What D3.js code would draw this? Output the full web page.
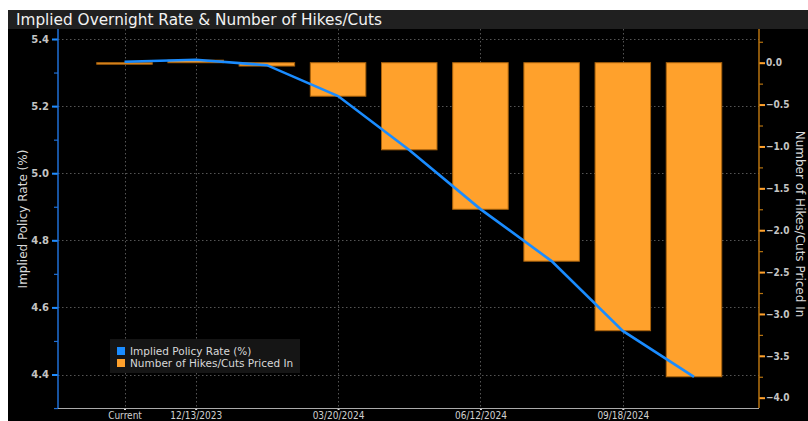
<!DOCTYPE html>
<html><head><meta charset="utf-8">
<script src="https://cdn.jsdelivr.net/npm/d3@7/dist/d3.min.js"></script>
<style>html,body{margin:0;padding:0;background:#fff;}svg{display:block;}</style>
</head><body>
<script>
const categories = ["Current","12/13/2023","01/31/2024","03/20/2024","05/01/2024","06/12/2024","07/31/2024","09/18/2024","11/07/2024"];
const tickLabels = ["Current","12/13/2023","","03/20/2024","","06/12/2024","","09/18/2024",""];
const impliedRate = [5.332, 5.338, 5.322, 5.230, 5.069, 4.893, 4.738, 4.530, 4.393];
const hikesCuts = [0.0, 0.03, -0.04, -0.40, -1.04, -1.75, -2.37, -3.20, -3.75];
const leftTicks = [5.4, 5.2, 5.0, 4.8, 4.6, 4.4];
const rightTicks = [0.0, -0.5, -1.0, -1.5, -2.0, -2.5, -3.0, -3.5, -4.0];

const W = 808, H = 421;
const svg = d3.select("body").append("svg").attr("width", W).attr("height", H);
svg.append("rect").attr("width", W).attr("height", H).attr("fill", "#fff");
svg.append("rect").attr("x", 8).attr("y", 10).attr("width", W - 8).attr("height", H - 10).attr("fill", "#000");
svg.append("rect").attr("x", 8).attr("y", 10).attr("width", W - 8).attr("height", 19).attr("fill", "#202020");
svg.append("text").attr("x", 16).attr("y", 25).attr("fill", "#f2f2f2")
  .attr("font-family", "DejaVu Sans").attr("font-size", 15.3).text("Implied Overnight Rate & Number of Hikes/Cuts");

const L = 58, R = 759, T = 29, B = 408;
const x = d3.scalePoint().domain(categories).range([124.5, 694]);
const bw = 55.5;
const yL = d3.scaleLinear().domain([4.4, 5.4]).range([374.5, 39]);
const yR = d3.scaleLinear().domain([-4.0, 0.0]).range([397.7, 62.7]);

// horizontal gridlines
svg.append("g").selectAll("line").data(leftTicks).join("line")
  .attr("x1", L).attr("x2", R).attr("y1", d => Math.round(yL(d)) + 0.5).attr("y2", d => Math.round(yL(d)) + 0.5)
  .attr("stroke", "#555").attr("stroke-dasharray", "1.5,2.5").attr("stroke-width", 1);
// vertical gridlines
const labeled = categories.filter((c, i) => tickLabels[i] !== "");
svg.append("g").selectAll("line").data(labeled).join("line")
  .attr("x1", d => Math.round(x(d)) + 0.5).attr("x2", d => Math.round(x(d)) + 0.5).attr("y1", T).attr("y2", B)
  .attr("stroke", "#555").attr("stroke-dasharray", "1.5,2.5").attr("stroke-width", 1);

// bars
svg.append("g").selectAll("rect").data(categories).join("rect")
  .attr("x", d => x(d) - bw / 2)
  .attr("y", (d, i) => Math.min(yR(0), yR(hikesCuts[i])))
  .attr("width", bw)
  .attr("height", (d, i) => Math.max(1.5, Math.abs(yR(hikesCuts[i]) - yR(0))))
  .attr("fill", "#ffa12c").attr("stroke", "#a8620c").attr("stroke-width", 1);

// line
svg.append("path").datum(categories)
  .attr("d", d3.line().x(d => x(d)).y((d, i) => yL(impliedRate[i])))
  .attr("fill", "none").attr("stroke", "#1a8cff").attr("stroke-width", 2.6);

// left axis
const gl = svg.append("g").attr("transform", `translate(${L},0)`);
gl.call(d3.axisLeft(yL).tickValues(d3.range(4.3, 5.45, 0.1).map(v => +v.toFixed(1))).tickSize(4).tickFormat(""));
gl.select(".domain").remove();
gl.selectAll("line").attr("stroke", "#1f6fd6").attr("stroke-width", 1.2);
const gl2 = svg.append("g").attr("transform", `translate(${L},0)`);
gl2.call(d3.axisLeft(yL).tickValues(leftTicks).tickSize(6).tickPadding(3).tickFormat(d3.format(".1f")));
gl2.select(".domain").remove();
gl2.selectAll("line").attr("stroke", "#1f8cff").attr("stroke-width", 2);
gl2.selectAll("text").attr("fill", "#c4c4c4").attr("font-family", "DejaVu Sans").attr("font-size", 10).attr("font-weight", "bold");
svg.append("line").attr("x1", L).attr("x2", L).attr("y1", T).attr("y2", B).attr("stroke", "#1f6fd6").attr("stroke-width", 1.5);

// right axis
const gr = svg.append("g").attr("transform", `translate(${R},0)`);
gr.call(d3.axisRight(yR).tickValues(d3.range(-4.0, 0.3, 0.25)).tickSize(4).tickFormat(""));
gr.select(".domain").remove();
gr.selectAll("line").attr("stroke", "#b8730f").attr("stroke-width", 1.2);
const gr2 = svg.append("g").attr("transform", `translate(${R},0)`);
gr2.call(d3.axisRight(yR).tickValues(rightTicks).tickSize(6).tickPadding(1).tickFormat(d3.format(".1f")));
gr2.select(".domain").remove();
gr2.selectAll("line").attr("stroke", "#ffa12c").attr("stroke-width", 2);
gr2.selectAll("text").attr("fill", "#c4c4c4").attr("font-family", "DejaVu Sans Condensed").attr("font-size", 10).attr("font-weight", "bold");
svg.append("line").attr("x1", R).attr("x2", R).attr("y1", T).attr("y2", B).attr("stroke", "#b8730f").attr("stroke-width", 1.5);

// bottom axis
const gb = svg.append("g").attr("transform", `translate(0,${B})`);
gb.call(d3.axisBottom(x).tickValues(labeled).tickSize(2).tickPadding(2)
  .tickFormat(d => tickLabels[categories.indexOf(d)]));
gb.select(".domain").remove();
gb.selectAll("line").attr("stroke", "#ddd").attr("stroke-width", 2);
gb.selectAll("text").attr("fill", "#d0d0d0").attr("font-family", "DejaVu Sans Condensed").attr("font-size", 10);
svg.append("line").attr("x1", L).attr("x2", R).attr("y1", B + 0.5).attr("y2", B + 0.5).attr("stroke", "#aaa").attr("stroke-width", 1.2);

// axis titles
svg.append("text").attr("transform", "translate(27,219) rotate(-90)").attr("text-anchor", "middle")
  .attr("fill", "#d8d8d8").attr("font-family", "DejaVu Sans").attr("font-size", 12).text("Implied Policy Rate (%)");
svg.append("text").attr("transform", "translate(796,224) rotate(90)").attr("text-anchor", "middle")
  .attr("fill", "#d8d8d8").attr("font-family", "DejaVu Sans").attr("font-size", 12).text("Number of Hikes/Cuts Priced In");

// legend
const legendItems = ["Implied Policy Rate (%)", "Number of Hikes/Cuts Priced In"];
const legendColors = ["#1a8cff", "#ffa12c"];
const lg = svg.append("g");
lg.append("rect").attr("x", 110).attr("y", 339).attr("width", 190).attr("height", 34).attr("fill", "#151515");
lg.selectAll("rect.sw").data(legendItems).join("rect").attr("class", "sw")
  .attr("x", 117).attr("y", (d, i) => 347 + i * 12).attr("width", 8).attr("height", 8)
  .attr("fill", (d, i) => legendColors[i]);
lg.selectAll("text").data(legendItems).join("text")
  .attr("x", 130).attr("y", (d, i) => 355 + i * 12)
  .attr("fill", "#d8d8d8").attr("font-family", "DejaVu Sans").attr("font-size", 10.5).text(d => d);
</script>
</body></html>
